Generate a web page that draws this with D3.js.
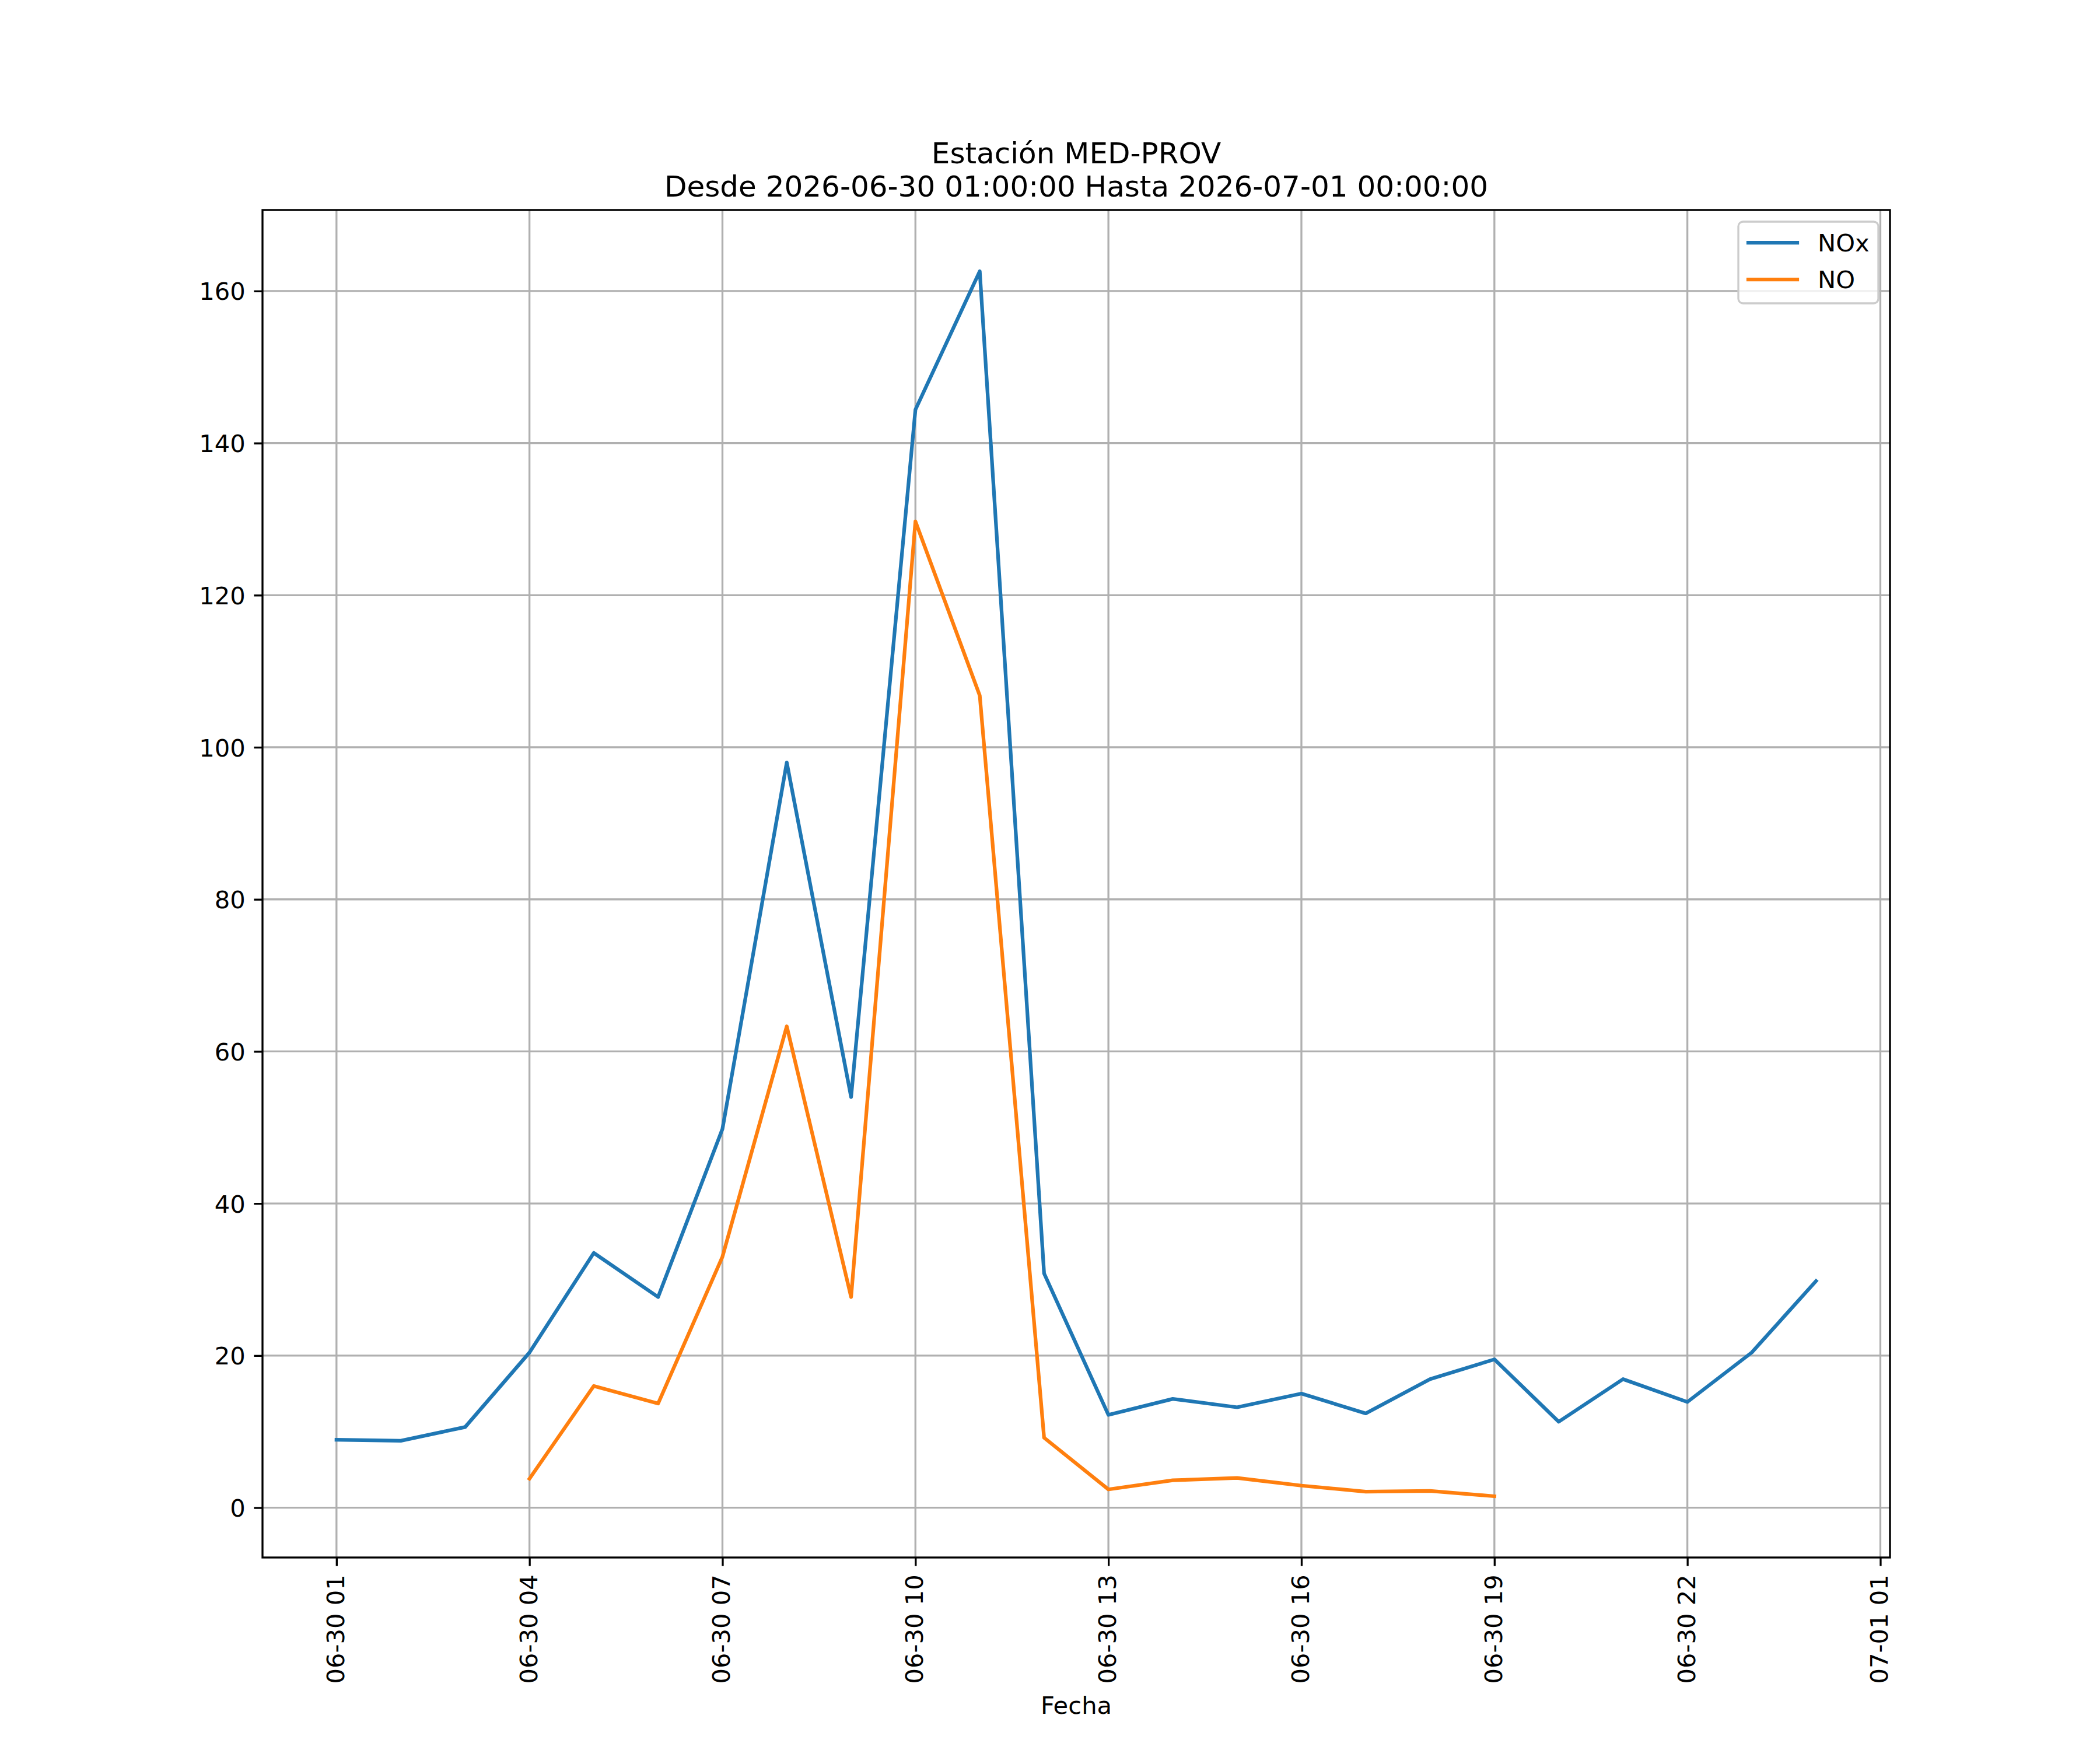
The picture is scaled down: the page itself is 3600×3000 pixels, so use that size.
<!DOCTYPE html>
<html>
<head>
<meta charset="utf-8">
<script src="https://cdn.jsdelivr.net/npm/d3@7"></script>
<style>
  body { margin: 0; background: #fff; }
  text { font-family: "DejaVu Sans", sans-serif; fill: #000; }
</style>
</head>
<body>
<div id="chart"></div>
<script>
// hourly readings, 06-30 01:00 .. 07-01 00:00
const hours = [
  "2026-06-30 01:00", "2026-06-30 02:00", "2026-06-30 03:00", "2026-06-30 04:00",
  "2026-06-30 05:00", "2026-06-30 06:00", "2026-06-30 07:00", "2026-06-30 08:00",
  "2026-06-30 09:00", "2026-06-30 10:00", "2026-06-30 11:00", "2026-06-30 12:00",
  "2026-06-30 13:00", "2026-06-30 14:00", "2026-06-30 15:00", "2026-06-30 16:00",
  "2026-06-30 17:00", "2026-06-30 18:00", "2026-06-30 19:00", "2026-06-30 20:00",
  "2026-06-30 21:00", "2026-06-30 22:00", "2026-06-30 23:00", "2026-07-01 00:00"
];
const noxValues = [8.93, 8.8, 10.6, 20.4, 33.5, 27.7, 49.8, 98.0, 54.0, 144.4, 162.6, 30.8,
                   12.2, 14.3, 13.2, 15.0, 12.4, 16.9, 19.5, 11.3, 16.9, 13.9, 20.4, 29.8];
const noValues  = [null, null, null, 3.8, 16.0, 13.7, 33.0, 63.3, 27.7, 129.7, 106.8, 9.2,
                   2.4, 3.6, 3.9, 2.9, 2.1, 2.2, 1.5, null, null, null, null, null];
const seriesNames = ["NOx", "NO"];
const seriesColors = ["#1f77b4", "#ff7f0e"];
const xTickLabels = ["2026-06-30 01:00", "2026-06-30 04:00", "2026-06-30 07:00", "2026-06-30 10:00",
                     "2026-06-30 13:00", "2026-06-30 16:00", "2026-06-30 19:00", "2026-06-30 22:00",
                     "2026-07-01 01:00"];
const yTicks = [0, 20, 40, 60, 80, 100, 120, 140, 160];
const titleLines = ["Estación MED-PROV", "Desde 2026-06-30 01:00:00 Hasta 2026-07-01 00:00:00"];
const xLabel = "Fecha";

const W = 3600, H = 3000;
const m = { left: 450, right: 3240, top: 360, bottom: 2670 };
const fs = 41.67;

const parse = d3.utcParse("%Y-%m-%d %H:%M");
const fmt = d3.utcFormat("%m-%d %H");
const times = hours.map(parse);

const series = [noxValues, noValues].map((vals, i) => ({
  name: seriesNames[i],
  color: seriesColors[i],
  points: vals.map((v, j) => ({ t: times[j], v }))
}));

// matplotlib-like 5% margins
const allT = series.flatMap(s => s.points.filter(p => p.v != null).map(p => +p.t));
const allV = series.flatMap(s => s.points.filter(p => p.v != null).map(p => p.v));
const [t0, t1] = d3.extent(allT), [v0, v1] = d3.extent(allV);
const tPad = (t1 - t0) * 0.05, vPad = (v1 - v0) * 0.05;

const x = d3.scaleUtc().domain([new Date(t0 - tPad), new Date(t1 + tPad)]).range([m.left, m.right]);
const y = d3.scaleLinear().domain([v0 - vPad, v1 + vPad]).range([m.bottom, m.top]);

const svg = d3.select("#chart").append("svg")
  .attr("width", W).attr("height", H)
  .attr("viewBox", `0 0 ${W} ${H}`);

svg.append("rect").attr("width", W).attr("height", H).attr("fill", "#fff");

const xTicks = xTickLabels.map(parse);

// grid
const grid = svg.append("g").attr("stroke", "#b0b0b0").attr("stroke-width", 3.33);
grid.selectAll(".gx").data(xTicks).join("line")
  .attr("x1", d => x(d)).attr("x2", d => x(d)).attr("y1", m.top).attr("y2", m.bottom);
grid.selectAll(".gy").data(yTicks).join("line")
  .attr("y1", d => y(d)).attr("y2", d => y(d)).attr("x1", m.left).attr("x2", m.right);

// lines
const line = d3.line()
  .defined(d => d.v != null)
  .x(d => x(d.t))
  .y(d => y(d.v));

svg.append("g").selectAll("path").data(series).join("path")
  .attr("d", d => line(d.points))
  .attr("fill", "none")
  .attr("stroke", d => d.color)
  .attr("stroke-width", 6.25)
  .attr("stroke-linejoin", "round")
  .attr("stroke-linecap", "square");

// axes
const xAxis = d3.axisBottom(x).tickValues(xTicks).tickFormat(fmt).tickSize(14.6).tickPadding(14.6);
const gx = svg.append("g").attr("transform", `translate(0,${m.bottom})`).call(xAxis);
gx.select(".domain").remove();
gx.selectAll(".tick line").attr("stroke", "#000").attr("stroke-width", 3.33);
gx.selectAll(".tick text")
  .attr("font-size", fs)
  .attr("transform", "rotate(-90)")
  .attr("text-anchor", "end")
  .attr("x", -29.2)
  .attr("y", 0)
  .attr("dy", "0.3em");

const yAxis = d3.axisLeft(y).tickValues(yTicks).tickFormat(d3.format("d")).tickSize(14.6).tickPadding(14.6);
const gy = svg.append("g").attr("transform", `translate(${m.left},0)`).call(yAxis);
gy.select(".domain").remove();
gy.selectAll(".tick line").attr("stroke", "#000").attr("stroke-width", 3.33);
gy.selectAll(".tick text").attr("font-size", fs).attr("dy", "0.36em");

// frame
svg.append("rect")
  .attr("x", m.left).attr("y", m.top)
  .attr("width", m.right - m.left).attr("height", m.bottom - m.top)
  .attr("fill", "none").attr("stroke", "#000").attr("stroke-width", 3.33);

// title
svg.append("g").selectAll("text").data(titleLines).join("text")
  .attr("x", (m.left + m.right) / 2)
  .attr("y", (d, i) => 280 + i * 57)
  .attr("text-anchor", "middle")
  .attr("font-size", 50)
  .text(d => d);

svg.append("text")
  .attr("x", (m.left + m.right) / 2).attr("y", 2938)
  .attr("text-anchor", "middle")
  .attr("font-size", fs)
  .text(xLabel);

// legend
const lg = svg.append("g");
lg.append("rect")
  .attr("x", 2980).attr("y", 380).attr("width", 240).attr("height", 140)
  .attr("rx", 8).attr("ry", 8)
  .attr("fill", "#fff").attr("fill-opacity", 0.8)
  .attr("stroke", "#cccccc").attr("stroke-width", 3.33);
const item = lg.selectAll(".item").data(series).join("g")
  .attr("transform", (d, i) => `translate(0,${416 + i * 63})`);
item.append("line")
  .attr("x1", 2997).attr("x2", 3081).attr("y1", 0).attr("y2", 0)
  .attr("stroke", d => d.color).attr("stroke-width", 6.25).attr("stroke-linecap", "square");
item.append("text")
  .attr("x", 3116).attr("y", 14.5)
  .attr("font-size", fs)
  .text(d => d.name);
</script>
</body>
</html>
